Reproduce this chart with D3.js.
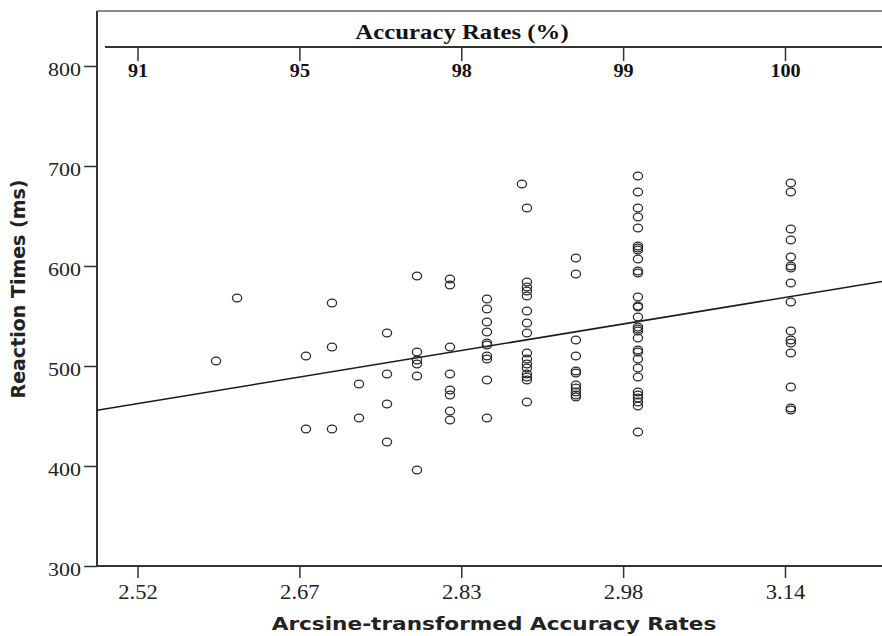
<!DOCTYPE html>
<html><head><meta charset="utf-8">
<script src="https://cdn.jsdelivr.net/npm/d3@7/dist/d3.min.js"></script>
<style>
html,body{margin:0;padding:0;background:#fff;}
svg{display:block;}
</style></head>
<body>
<svg id="chart" width="882" height="636"></svg>
<script>
// ---- data ----
const colX = [2.5952, 2.6153, 2.6813, 2.7062, 2.7321, 2.7589, 2.7876, 2.8192, 2.8546, 2.8881, 2.8929, 2.9398, 2.9992, 3.1456];
const colRT = [
  [505],
  [568],
  [510, 437],
  [563, 519, 437],
  [482, 448],
  [533, 492, 462, 424],
  [590, 514, 506, 502, 490, 396],
  [587, 581, 519, 492, 476, 471, 455, 446],
  [567, 557, 544, 534, 523, 521, 510, 507, 486, 448],
  [682],
  [658, 584, 579, 575, 570, 555, 543, 533, 513, 507, 502, 498, 492, 489, 486, 464],
  [608, 592, 526, 510, 495, 493, 481, 478, 474, 471, 469],
  [690, 674, 658, 649, 638, 620, 618, 616, 607, 595, 593, 569, 560, 559, 549, 539, 537, 535, 528, 516, 514, 507, 498, 489, 474, 471, 468, 464, 460, 434],
  [683, 674, 637, 626, 609, 600, 598, 583, 564, 535, 526, 523, 513, 479, 458, 456]
];
const xTickValues = [2.52, 2.675, 2.83, 2.985, 3.14];
const xTickLabels = ["2.52", "2.67", "2.83", "2.98", "3.14"];
const accTickLabels = ["91", "95", "98", "99", "100"];
const yTickValues = [300, 400, 500, 600, 700, 800];
const fitCoef = [30.7, 171.3]; // intercept, slope
const xDomain = [2.4812, 3.2329];
const yDomain = [300, 855];

const points = [];
colX.forEach((xv, i) => colRT[i].forEach(v => points.push({x: xv, y: v})));

// ---- layout ----
const L = 97, R = 882, T = 11, B = 566;
const svg = d3.select("#chart");
const x = d3.scaleLinear().domain(xDomain).range([L, R]);
const y = d3.scaleLinear().domain(yDomain).range([B, T]);
const axisColor = "#333";
const serif = "'Liberation Serif', 'Times New Roman', serif";
const sans = "'DejaVu Sans', Verdana, sans-serif";

// widen glyphs horizontally (the reference is slightly stretched)
function stretch(sel, factor) {
  sel.each(function () {
    const w = this.getComputedTextLength();
    d3.select(this).attr("textLength", w * factor).attr("lengthAdjust", "spacingAndGlyphs");
  });
}

// top frame line
svg.append("line").attr("x1", L).attr("x2", R).attr("y1", T).attr("y2", T)
  .attr("stroke", "#8a8a8a").attr("stroke-width", 2);

// left axis
const gy = svg.append("g").attr("transform", `translate(${L},0)`)
  .call(d3.axisLeft(y).tickValues(yTickValues).tickSize(13).tickPadding(3).tickFormat(d3.format("d")));
gy.select(".domain").remove();
gy.append("line").attr("x1", 0).attr("x2", 0).attr("y1", T).attr("y2", B)
  .attr("stroke", axisColor).attr("stroke-width", 2);
gy.selectAll(".tick line").attr("stroke", axisColor).attr("stroke-width", 1.5);
gy.selectAll(".tick text").attr("font-family", serif)
  .attr("font-size", 18).attr("fill", "#222").attr("dy", null).attr("y", 9.5)
  .call(stretch, 1.22);

// bottom axis
const gx = svg.append("g").attr("transform", `translate(0,${B})`)
  .call(d3.axisBottom(x).tickValues(xTickValues).tickSize(12).tickPadding(6)
    .tickFormat((d, i) => xTickLabels[i]));
gx.select(".domain").remove();
gx.append("line").attr("x1", L).attr("x2", R).attr("y1", 0).attr("y2", 0)
  .attr("stroke", axisColor).attr("stroke-width", 2);
gx.selectAll(".tick line").attr("stroke", axisColor).attr("stroke-width", 1.5);
gx.selectAll(".tick text").attr("font-family", serif)
  .attr("font-size", 20).attr("fill", "#222").attr("dy", null).attr("y", 33)
  .call(stretch, 1.13);

// top secondary axis (accuracy rates)
const topY = 47;
const gt = svg.append("g").attr("transform", `translate(0,${topY})`)
  .call(d3.axisBottom(x).tickValues(xTickValues).tickSize(14).tickPadding(4)
    .tickFormat((d, i) => accTickLabels[i]));
gt.select(".domain").remove();
gt.append("line").attr("x1", 105).attr("x2", R).attr("y1", 0).attr("y2", 0)
  .attr("stroke", axisColor).attr("stroke-width", 2);
gt.selectAll(".tick line").attr("stroke", axisColor).attr("stroke-width", 1.5);
gt.selectAll(".tick text").attr("font-family", serif)
  .attr("font-size", 18).attr("font-weight", "bold").attr("fill", "#111")
  .attr("dy", null).attr("y", 30)
  .call(stretch, 1.12);

svg.append("text").attr("x", 462).attr("y", 39).attr("text-anchor", "middle")
  .attr("font-family", serif)
  .attr("font-size", 21).attr("font-weight", "bold").attr("fill", "#111")
  .text("Accuracy Rates (%)")
  .call(stretch, 1.18);

// fit line
svg.append("line")
  .attr("x1", x(xDomain[0])).attr("y1", y(fitCoef[0] + fitCoef[1] * xDomain[0]))
  .attr("x2", x(xDomain[1])).attr("y2", y(fitCoef[0] + fitCoef[1] * xDomain[1]))
  .attr("stroke", "#1a1a1a").attr("stroke-width", 1.6);

// points
svg.append("g").selectAll("ellipse").data(points).join("ellipse")
  .attr("cx", d => x(d.x)).attr("cy", d => y(d.y))
  .attr("rx", 4.6).attr("ry", 3.9)
  .attr("fill", "none").attr("stroke", "#2a2a2a").attr("stroke-width", 1.3);

// axis titles
svg.append("text").attr("x", 494).attr("y", 630).attr("text-anchor", "middle")
  .attr("font-family", sans)
  .attr("font-size", 18).attr("font-weight", "bold").attr("fill", "#222")
  .text("Arcsine-transformed Accuracy Rates")
  .call(stretch, 1.2);

svg.append("text").attr("transform", "translate(25,289) rotate(-90)").attr("text-anchor", "middle")
  .attr("font-family", sans)
  .attr("font-size", 19).attr("font-weight", "bold").attr("fill", "#222")
  .text("Reaction Times (ms)");
</script>
</body></html>
